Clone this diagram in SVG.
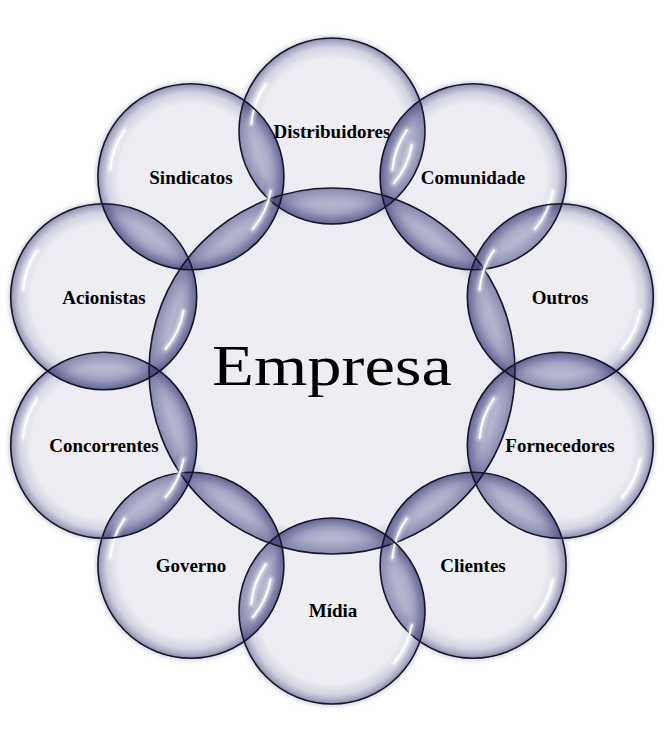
<svg xmlns="http://www.w3.org/2000/svg" xmlns:xlink="http://www.w3.org/1999/xlink" width="664" height="744" viewBox="0 0 664 744">
<style>
.lbl{font-family:"Liberation Serif","Times New Roman",serif;font-weight:bold;font-size:19px;fill:#000;text-anchor:middle}
.title{font-family:"Liberation Serif","Times New Roman",serif;font-size:57px;fill:#000;text-anchor:middle}
.outline{fill:none;stroke:#16162a;stroke-width:1.6}
.lensS{fill:url(#lensS)}
.lensB{fill:url(#lensB)}
.halo{fill:none;stroke:#c9c9d8;stroke-width:4}
.gl1{fill:none;stroke:#fff;stroke-width:6;stroke-linecap:round;opacity:.45}
.gl2{fill:none;stroke:#fff;stroke-width:2.2;stroke-linecap:round;opacity:.9}
</style>
<defs>
<radialGradient id="base" cx="0.5" cy="0.5" r="0.5">
<stop offset="0" stop-color="#eeeef3"/>
<stop offset="0.78" stop-color="#ececf2"/>
<stop offset="0.9" stop-color="#d4d4e2"/>
<stop offset="0.97" stop-color="#a6a6c2"/>
<stop offset="1" stop-color="#8a8aab"/>
</radialGradient>
<radialGradient id="baseB" cx="0.5" cy="0.5" r="0.5">
<stop offset="0" stop-color="#eeeef3"/>
<stop offset="0.88" stop-color="#ececf2"/>
<stop offset="0.95" stop-color="#c8c8da"/>
<stop offset="1" stop-color="#8a8aab"/>
</radialGradient>
<radialGradient id="lensS" cx="0.5" cy="0.5" r="0.5">
<stop offset="0" stop-color="#55558f" stop-opacity="0.08"/>
<stop offset="0.6" stop-color="#55558f" stop-opacity="0.11"/>
<stop offset="0.85" stop-color="#55558f" stop-opacity="0.22"/>
<stop offset="1" stop-color="#48487f" stop-opacity="0.55"/>
</radialGradient>
<radialGradient id="lensB" cx="0.5" cy="0.5" r="0.5">
<stop offset="0" stop-color="#55558f" stop-opacity="0.08"/>
<stop offset="0.8" stop-color="#55558f" stop-opacity="0.11"/>
<stop offset="0.92" stop-color="#55558f" stop-opacity="0.22"/>
<stop offset="1" stop-color="#48487f" stop-opacity="0.55"/>
</radialGradient>
<filter id="blur" x="-50%" y="-50%" width="200%" height="200%"><feGaussianBlur stdDeviation="1.6"/></filter>
<filter id="blurS" x="-50%" y="-50%" width="200%" height="200%"><feGaussianBlur stdDeviation="0.6"/></filter>
<filter id="haloF" x="-10%" y="-10%" width="120%" height="120%"><feGaussianBlur stdDeviation="2"/></filter>
<circle id="k0" cx="332" cy="371" r="183"/>
<circle id="k1" cx="332" cy="131" r="93"/>
<circle id="k2" cx="473.1" cy="176.8" r="93"/>
<circle id="k3" cx="560.3" cy="296.8" r="93"/>
<circle id="k4" cx="560.3" cy="445.2" r="93"/>
<circle id="k5" cx="473.1" cy="565.2" r="93"/>
<circle id="k6" cx="332" cy="611" r="93"/>
<circle id="k7" cx="190.9" cy="565.2" r="93"/>
<circle id="k8" cx="103.7" cy="445.2" r="93"/>
<circle id="k9" cx="103.7" cy="296.8" r="93"/>
<circle id="k10" cx="190.9" cy="176.8" r="93"/>
<clipPath id="c0"><use xlink:href="#k0" href="#k0"/></clipPath>
<clipPath id="c1"><use xlink:href="#k1" href="#k1"/></clipPath>
<clipPath id="c2"><use xlink:href="#k2" href="#k2"/></clipPath>
<clipPath id="c3"><use xlink:href="#k3" href="#k3"/></clipPath>
<clipPath id="c4"><use xlink:href="#k4" href="#k4"/></clipPath>
<clipPath id="c5"><use xlink:href="#k5" href="#k5"/></clipPath>
<clipPath id="c6"><use xlink:href="#k6" href="#k6"/></clipPath>
<clipPath id="c7"><use xlink:href="#k7" href="#k7"/></clipPath>
<clipPath id="c8"><use xlink:href="#k8" href="#k8"/></clipPath>
<clipPath id="c9"><use xlink:href="#k9" href="#k9"/></clipPath>
<clipPath id="c10"><use xlink:href="#k10" href="#k10"/></clipPath>
<g id="gloss">
<path d="M-80.7 -7.1A81 81 0 0 1 -66.4 -46.5"/>
<path d="M79.8 14.1A81 81 0 0 1 62 52.1"/>
</g>
</defs>

<g id="halo" filter="url(#haloF)">
<use href="#k0" class="halo"/><use href="#k1" class="halo"/><use href="#k2" class="halo"/><use href="#k3" class="halo"/><use href="#k4" class="halo"/><use href="#k5" class="halo"/><use href="#k6" class="halo"/><use href="#k7" class="halo"/><use href="#k8" class="halo"/><use href="#k9" class="halo"/><use href="#k10" class="halo"/>
</g>

<g id="fills">
<use href="#k0" fill="url(#baseB)"/>
<use href="#k1" fill="url(#base)"/><use href="#k2" fill="url(#base)"/><use href="#k3" fill="url(#base)"/><use href="#k4" fill="url(#base)"/><use href="#k5" fill="url(#base)"/><use href="#k6" fill="url(#base)"/><use href="#k7" fill="url(#base)"/><use href="#k8" fill="url(#base)"/><use href="#k9" fill="url(#base)"/><use href="#k10" fill="url(#base)"/>
</g>

<g id="overlaps">
<use href="#k1" class="lensS" clip-path="url(#c0)"/><use href="#k0" class="lensB" clip-path="url(#c1)"/>
<use href="#k2" class="lensS" clip-path="url(#c0)"/><use href="#k0" class="lensB" clip-path="url(#c2)"/>
<use href="#k3" class="lensS" clip-path="url(#c0)"/><use href="#k0" class="lensB" clip-path="url(#c3)"/>
<use href="#k4" class="lensS" clip-path="url(#c0)"/><use href="#k0" class="lensB" clip-path="url(#c4)"/>
<use href="#k5" class="lensS" clip-path="url(#c0)"/><use href="#k0" class="lensB" clip-path="url(#c5)"/>
<use href="#k6" class="lensS" clip-path="url(#c0)"/><use href="#k0" class="lensB" clip-path="url(#c6)"/>
<use href="#k7" class="lensS" clip-path="url(#c0)"/><use href="#k0" class="lensB" clip-path="url(#c7)"/>
<use href="#k8" class="lensS" clip-path="url(#c0)"/><use href="#k0" class="lensB" clip-path="url(#c8)"/>
<use href="#k9" class="lensS" clip-path="url(#c0)"/><use href="#k0" class="lensB" clip-path="url(#c9)"/>
<use href="#k10" class="lensS" clip-path="url(#c0)"/><use href="#k0" class="lensB" clip-path="url(#c10)"/>
<use href="#k1" class="lensS" clip-path="url(#c2)"/><use href="#k2" class="lensS" clip-path="url(#c1)"/>
<use href="#k2" class="lensS" clip-path="url(#c3)"/><use href="#k3" class="lensS" clip-path="url(#c2)"/>
<use href="#k3" class="lensS" clip-path="url(#c4)"/><use href="#k4" class="lensS" clip-path="url(#c3)"/>
<use href="#k4" class="lensS" clip-path="url(#c5)"/><use href="#k5" class="lensS" clip-path="url(#c4)"/>
<use href="#k5" class="lensS" clip-path="url(#c6)"/><use href="#k6" class="lensS" clip-path="url(#c5)"/>
<use href="#k6" class="lensS" clip-path="url(#c7)"/><use href="#k7" class="lensS" clip-path="url(#c6)"/>
<use href="#k7" class="lensS" clip-path="url(#c8)"/><use href="#k8" class="lensS" clip-path="url(#c7)"/>
<use href="#k8" class="lensS" clip-path="url(#c9)"/><use href="#k9" class="lensS" clip-path="url(#c8)"/>
<use href="#k9" class="lensS" clip-path="url(#c10)"/><use href="#k10" class="lensS" clip-path="url(#c9)"/>
<use href="#k10" class="lensS" clip-path="url(#c1)"/><use href="#k1" class="lensS" clip-path="url(#c10)"/>
</g>

<g id="node-empresa">
<use href="#k0" class="outline"/>
<text class="title" x="332" y="385" textLength="240" lengthAdjust="spacingAndGlyphs">Empresa</text>
</g>
<g id="node-distribuidores">
<use href="#k1" class="outline"/>
<use href="#gloss" x="332" y="131" class="gl1" filter="url(#blur)"/><use href="#gloss" x="332" y="131" class="gl2" filter="url(#blurS)"/>
<text class="lbl" x="332" y="138">Distribuidores</text>
</g>
<g id="node-comunidade">
<use href="#k2" class="outline"/>
<use href="#gloss" x="473.1" y="176.8" class="gl1" filter="url(#blur)"/><use href="#gloss" x="473.1" y="176.8" class="gl2" filter="url(#blurS)"/>
<text class="lbl" x="473" y="184">Comunidade</text>
</g>
<g id="node-outros">
<use href="#k3" class="outline"/>
<use href="#gloss" x="560.3" y="296.8" class="gl1" filter="url(#blur)"/><use href="#gloss" x="560.3" y="296.8" class="gl2" filter="url(#blurS)"/>
<text class="lbl" x="560" y="304">Outros</text>
</g>
<g id="node-fornecedores">
<use href="#k4" class="outline"/>
<use href="#gloss" x="560.3" y="445.2" class="gl1" filter="url(#blur)"/><use href="#gloss" x="560.3" y="445.2" class="gl2" filter="url(#blurS)"/>
<text class="lbl" x="560" y="452">Fornecedores</text>
</g>
<g id="node-clientes">
<use href="#k5" class="outline"/>
<use href="#gloss" x="473.1" y="565.2" class="gl1" filter="url(#blur)"/><use href="#gloss" x="473.1" y="565.2" class="gl2" filter="url(#blurS)"/>
<text class="lbl" x="473" y="572">Clientes</text>
</g>
<g id="node-midia">
<use href="#k6" class="outline"/>
<use href="#gloss" x="332" y="611" class="gl1" filter="url(#blur)"/><use href="#gloss" x="332" y="611" class="gl2" filter="url(#blurS)"/>
<text class="lbl" x="333" y="617">Mídia</text>
</g>
<g id="node-governo">
<use href="#k7" class="outline"/>
<use href="#gloss" x="190.9" y="565.2" class="gl1" filter="url(#blur)"/><use href="#gloss" x="190.9" y="565.2" class="gl2" filter="url(#blurS)"/>
<text class="lbl" x="191" y="572">Governo</text>
</g>
<g id="node-concorrentes">
<use href="#k8" class="outline"/>
<use href="#gloss" x="103.7" y="445.2" class="gl1" filter="url(#blur)"/><use href="#gloss" x="103.7" y="445.2" class="gl2" filter="url(#blurS)"/>
<text class="lbl" x="104" y="452">Concorrentes</text>
</g>
<g id="node-acionistas">
<use href="#k9" class="outline"/>
<use href="#gloss" x="103.7" y="296.8" class="gl1" filter="url(#blur)"/><use href="#gloss" x="103.7" y="296.8" class="gl2" filter="url(#blurS)"/>
<text class="lbl" x="104" y="304">Acionistas</text>
</g>
<g id="node-sindicatos">
<use href="#k10" class="outline"/>
<use href="#gloss" x="190.9" y="176.8" class="gl1" filter="url(#blur)"/><use href="#gloss" x="190.9" y="176.8" class="gl2" filter="url(#blurS)"/>
<text class="lbl" x="191" y="184">Sindicatos</text>
</g>
<g id="connectors"/>
</svg>
